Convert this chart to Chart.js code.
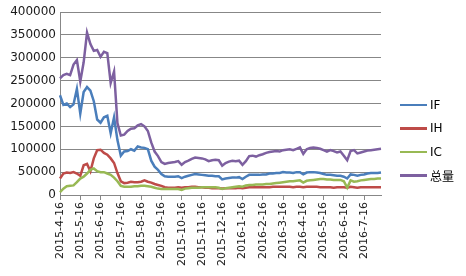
<!DOCTYPE html>
<html>
<head>
<meta charset="utf-8">
<script src="https://cdn.jsdelivr.net/npm/chart.js@4"></script>
<style>
  body { margin: 0; background: #ffffff; }
  #caixa { position: relative; width: 466px; height: 276px; }
  #legenda {
    position: absolute;
    left: 400px;
    top: 93px;
    font: 12px "DejaVu Sans", "Noto Sans CJK SC", sans-serif;
    color: #000000;
  }
  #legenda .item { height: 23.5px; display: flex; align-items: center; }
  #legenda .traco { width: 27px; height: 2.5px; margin-right: 3px; }
</style>
</head>
<body>
<div id="caixa">
  <canvas id="graficoVolume" width="466" height="276"></canvas>
  <div id="legenda"></div>
</div>
<script>
/* ============================================================
DADOS
============================================================ */

// rótulos mensais do eixo x (um a cada 6 pontos)
const meses = [
  "2015-4-16", "2015-5-16", "2015-6-16", "2015-7-16", "2015-8-16", "2015-9-16",
  "2015-10-16", "2015-11-16", "2015-12-16", "2016-1-16", "2016-2-16", "2016-3-16",
  "2016-4-16", "2016-5-16", "2016-6-16", "2016-7-16",
];

const pontosPorMes = 6;

const valoresIF = [
  218, 197, 200, 192, 198, 232, 178, 225, 236, 228, 205, 165,
  158, 170, 173, 135, 170, 120, 86, 95, 96, 100, 97, 106,
  104, 103, 100, 75, 62, 55, 46, 41, 40, 40, 40, 41,
  37, 40, 42, 44, 46, 45, 44, 43, 42, 42, 41, 41,
  34, 36, 37, 38, 38, 39, 35, 40, 44, 44, 44, 44,
  45, 45, 47, 47, 48, 48, 50, 49, 49, 48, 50, 50,
  45, 49, 50, 50, 49, 48, 46, 44, 44, 43, 42, 42,
  40, 36, 45, 44, 42, 44, 45, 47, 48, 48, 48, 49,
].map((v) => v * 1000);

const valoresIH = [
  36, 47, 49, 48, 50, 47, 42, 65, 68, 52, 80, 98,
  99, 92, 88, 80, 70, 48, 30, 26, 27, 29, 28, 28,
  29, 32, 29, 27, 24, 22, 20, 17, 16, 16, 16, 17,
  16, 17, 17, 18, 18, 17, 17, 16, 16, 15, 15, 15,
  14, 15, 15, 15, 15, 16, 15, 16, 17, 17, 17, 17,
  17, 17, 17, 18, 18, 18, 18, 18, 18, 17, 18, 18,
  17, 18, 18, 18, 18, 17, 17, 17, 17, 16, 17, 17,
  17, 16, 18, 17, 16, 17, 17, 17, 17, 17, 17, 17,
].map((v) => v * 1000);

const valoresIC = [
  6, 14, 19, 20, 21, 28, 36, 40, 47, 55, 58, 52,
  50, 50, 47, 44, 38, 30, 20, 18, 18, 18, 19, 19,
  20, 20, 19, 18, 16, 14, 13, 13, 13, 13, 13, 13,
  11, 14, 15, 16, 16, 16, 17, 17, 17, 17, 17, 16,
  13, 15, 16, 17, 18, 19, 18, 21, 22, 22, 23, 23,
  23, 24, 24, 25, 26, 27, 28, 29, 30, 30, 31, 32,
  27, 31, 32, 33, 34, 35, 35, 34, 34, 33, 33, 33,
  30, 16, 32, 29, 30, 32, 33, 34, 35, 35, 36, 36,
].map((v) => v * 1000);

const valoresTotal = [
  255, 262, 265, 262, 285, 295, 248, 290, 355, 330, 315, 317,
  302, 313, 310, 245, 270, 157, 130, 132, 140, 145, 146, 152,
  155, 150, 140, 115, 95, 85, 72, 68, 70, 71, 72, 74,
  66, 72, 75, 79, 82, 81, 80, 78, 74, 76, 77, 76,
  64, 70, 73, 75, 74, 75, 66, 74, 85, 86, 84, 87,
  89, 92, 94, 95, 96, 95, 98, 99, 100, 98, 101, 104,
  90, 100, 103, 104, 103, 101, 98, 95, 98, 96, 93, 95,
  86, 76, 96, 98, 91, 93, 95, 97, 98, 99, 100, 101,
].map((v) => v * 1000);

// categorias: só os pontos de início de mês levam texto
const rotulos = [];
for (let i = 0; i < valoresTotal.length; i++) {
  rotulos.push(i % pontosPorMes === 0 ? meses[i / pontosPorMes] || "" : "");
}

/* ============================================================
GRÁFICO
============================================================ */

const corGrade = "#878787";

function serie(label, data, cor, ordem) {
  return {
    label,
    data,
    borderColor: cor,
    backgroundColor: cor,
    borderWidth: 2.5,
    tension: 0,
    pointRadius: 0,
    order: ordem,
  };
}

const grafico = new Chart(document.getElementById("graficoVolume"), {
  type: "line",
  data: {
    labels: rotulos,
    datasets: [
      serie("IF", valoresIF, "#4a7ebb", 3),
      serie("IH", valoresIH, "#be4b48", 2),
      serie("IC", valoresIC, "#98b954", 1),
      serie("总量", valoresTotal, "#7d60a0", 0),
    ],
  },
  options: {
    responsive: false,
    animation: false,
    layout: { padding: { top: 12, right: 85, left: 0, bottom: 0 } },
    plugins: { legend: { display: false } },
    scales: {
      x: {
        afterFit(s) {
          s.height = 81;
        },
        grid: {
          drawOnChartArea: false,
          tickLength: 5,
          tickColor: (c) => (rotulos[c.index] ? corGrade : "transparent"),
        },
        border: { color: corGrade, width: 1 },
        ticks: {
          autoSkip: false,
          minRotation: 90,
          maxRotation: 90,
          padding: 2,
          color: "#1a1a1a",
          font: { family: "DejaVu Sans", size: 11 },
        },
      },
      y: {
        min: 0,
        max: 400000,
        afterFit(s) {
          s.width = 60;
        },
        grid: { color: corGrade, tickLength: 0 },
        border: { color: corGrade, width: 1 },
        ticks: {
          stepSize: 50000,
          padding: 4,
          color: "#1a1a1a",
          font: { family: "DejaVu Sans", size: 12 },
          callback: (v) => String(v),
        },
      },
    },
  },
});

/* ============================================================
LEGENDA (HTML, à direita)
============================================================ */

const legenda = document.getElementById("legenda");

grafico.data.datasets.forEach((ds) => {
  const item = document.createElement("div");
  item.className = "item";

  const traco = document.createElement("span");
  traco.className = "traco";
  traco.style.background = ds.borderColor;

  const texto = document.createElement("span");
  texto.textContent = ds.label;

  item.appendChild(traco);
  item.appendChild(texto);
  legenda.appendChild(item);
});
</script>
</body>
</html>
